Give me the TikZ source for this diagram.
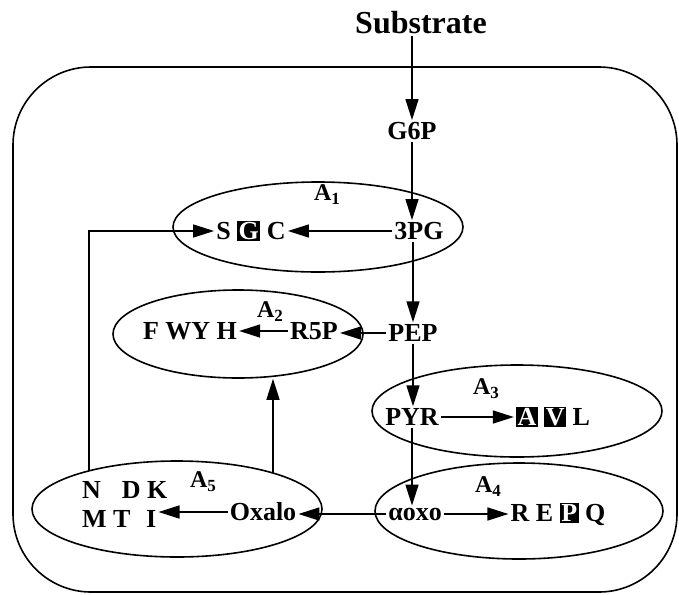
\documentclass[tikz,border=0pt]{standalone}
\usepackage{fontspec}
\setmainfont{Liberation Serif}
\usetikzlibrary{shapes.geometric,arrows.meta}
\tikzstyle{pool}=[
        draw,
        ellipse,
        line width = 1.6pt,
        inner sep = 0pt
    ]
\tikzstyle{met}=[
        font = \fontsize{26}{28}\selectfont\bfseries,
        inner sep = 2pt
    ]
\tikzstyle{lab}=[
        font = \fontsize{24}{26}\selectfont\bfseries,
        inner sep = 0pt
    ]
\tikzstyle{arr}=[
        -{Triangle[length=21pt,width=13pt]},
        line width = 1.5pt
    ]
\newcommand{\hl}[1]{{\setlength{\fboxsep}{1.5pt}\colorbox{black}{\textcolor{white}{#1}}}}
\newcommand{\enz}[1]{A\raisebox{-4pt}{\fontsize{17}{17}\selectfont #1}}

\begin{document}
\begin{tikzpicture}[x=1pt, y=-1pt]
        \useasboundingbox (0,0) rectangle (679,594);
        \draw[line width=1.6pt, rounded corners=78pt] (13,67) rectangle (677,592);

        % pools
        \node[pool, minimum width=290pt, minimum height=90pt] (e1) at (318,227) {};
        \node[pool, minimum width=250pt, minimum height=88pt] (e2) at (238,334) {};
        \node[pool, minimum width=290pt, minimum height=92pt] (e3) at (517,411) {};
        \node[pool, minimum width=288pt, minimum height=96pt] (e4) at (519,511) {};
        \node[pool, minimum width=290pt, minimum height=96pt] (e5) at (177,509) {};

        \node[lab] (a1) at (327,195) {\enz{1}};
        \node[lab] (a2) at (270,312) {\enz{2}};
        \node[lab] (a3) at (486,389) {\enz{3}};
        \node[lab] (a4) at (488,487) {\enz{4}};
        \node[lab] (a5) at (203,482) {\enz{5}};

        % metabolites
        \node[met, font=\fontsize{32}{34}\selectfont\bfseries] (sub) at (421,23) {Substrate};
        \node[met] (g6p) at (412,131) {G6P};
        \node[met] (pg3) at (419,231) {3PG};
        \node[met] (sgc) at (251,231) {S \hl{G} C};
        \node[met] (pep) at (413,333) {PEP};
        \node[met] (r5p) at (314,331) {R5P};
        \node[met] (fwyh) at (190,331) {F WY H};
        \node[met] (pyr) at (412,417) {PYR};
        \node[met] (avl) at (553,417) {\hl{A} \hl{V} L};
        \node[met] (aoxo) at (415,514) {αoxo};
        \node[met] (repq) at (558,514) {R E \hl{P} Q};
        \node[met] (oxalo) at (263,512) {Oxalo};
        \node[met, anchor=west] (ndk) at (80,490) {N\hspace{0.8em}D K};
        \node[met, anchor=west] (mti) at (80,519) {M T\hspace{0.6em}I};

        \draw[arr] (g6p.north |- sub.south) -- (g6p.north);
        \draw[arr] (g6p.south) -- (g6p.south |- pg3.north);
        \draw[arr] (pg3.west) -- (sgc.east);
        \draw[arr] (pg3.south -| pep.north) -- (pep.north);
        \draw[arr] (pep.west) -- (pep.west -| r5p.east);
        \draw[arr] (r5p.west) -- (r5p.west -| fwyh.east);
        \draw[arr] (pep.south) -- (pep.south |- pyr.north);
        \draw[arr] (pyr.east) -- (pyr.east -| avl.west);
        \draw[arr] (pyr.south) -- (pyr.south |- aoxo.north);
        \draw[arr] (aoxo.east) -- (aoxo.east -| repq.west);
        \draw[arr] (aoxo.west) -- (aoxo.west -| oxalo.east);
        \draw[arr] (oxalo.west) -- (oxalo.west -| mti.east);

        % feedback from A5
        \coordinate (fb) at (89,471);
        \coordinate (up) at (273,473);
        \draw[arr] (fb) |- (sgc.west);
        \draw[arr] (up) -- (up |- e2.south);

    \end{tikzpicture}
\end{document}
